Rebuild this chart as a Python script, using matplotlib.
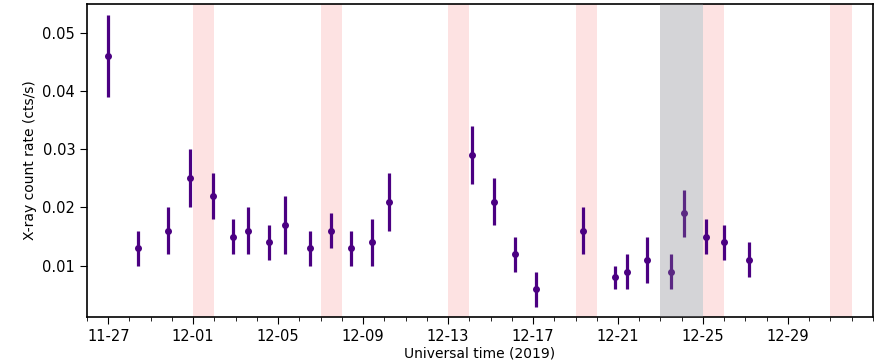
import matplotlib
matplotlib.use('Agg')
import matplotlib.pyplot as plt
import matplotlib.dates as mdates
import matplotlib.ticker as mticker
import pandas as pd

# Observation times (UT) and X-ray count rates with 1-sigma errors
obs_times = ['2019-11-27 00:00', '2019-11-28 09:40', '2019-11-29 19:30',
             '2019-11-30 20:40', '2019-12-01 21:50', '2019-12-02 20:25',
             '2019-12-03 13:40', '2019-12-04 14:00', '2019-12-05 08:00',
             '2019-12-06 12:15', '2019-12-07 11:45', '2019-12-08 10:00',
             '2019-12-09 10:30', '2019-12-10 05:15', '2019-12-14 03:00',
             '2019-12-15 03:30', '2019-12-16 03:20', '2019-12-17 03:00',
             '2019-12-19 09:00', '2019-12-20 20:40', '2019-12-21 10:30',
             '2019-12-22 08:40', '2019-12-23 12:15', '2019-12-24 02:10',
             '2019-12-25 03:50', '2019-12-25 23:20', '2019-12-27 03:40']
rate = [0.046, 0.013, 0.016, 0.025, 0.022, 0.015, 0.016, 0.014, 0.017,
        0.013, 0.016, 0.013, 0.014, 0.021, 0.029, 0.021, 0.012, 0.006,
        0.016, 0.008, 0.009, 0.011, 0.009, 0.019, 0.015, 0.014, 0.011]
rate_err = [0.007, 0.003, 0.004, 0.005, 0.004, 0.003, 0.004, 0.003, 0.005,
            0.003, 0.003, 0.003, 0.004, 0.005, 0.005, 0.004, 0.003, 0.003,
            0.004, 0.002, 0.003, 0.004, 0.003, 0.004, 0.003, 0.003, 0.003]

# Shaded intervals
pink_start = ['2019-12-01', '2019-12-07', '2019-12-13', '2019-12-19',
              '2019-12-25', '2019-12-31']
pink_end = ['2019-12-02', '2019-12-08', '2019-12-14', '2019-12-20',
            '2019-12-26', '2020-01-01']
gray_start = '2019-12-23'
gray_end = '2019-12-25'

t = pd.to_datetime(obs_times)

fig = plt.figure(figsize=(8.79, 3.62), dpi=100)
ax = fig.add_axes([0.099, 0.124, 0.894, 0.865])

for s, e in zip(pink_start, pink_end):
    ax.axvspan(pd.Timestamp(s), pd.Timestamp(e), color='#fde2e2',
               lw=0, zorder=0)

ax.errorbar(t, rate, yerr=rate_err, fmt='o', color='#4b0082', ms=4,
            elinewidth=2.3, capsize=0, zorder=2)

ax.axvspan(pd.Timestamp(gray_start), pd.Timestamp(gray_end),
           color='#7d7f88', alpha=0.33, lw=0, zorder=3)

ax.set_xlim(pd.Timestamp('2019-11-26'), pd.Timestamp('2020-01-02'))
ax.set_ylim(0.0012, 0.0549)
ax.set_yticks([0.01, 0.02, 0.03, 0.04, 0.05])

# major ticks every 4 days from 11-27, minor every day
ax.xaxis.set_major_locator(mticker.FixedLocator(
    mdates.date2num(pd.date_range('2019-11-27', '2019-12-29', freq='4D'))))
ax.xaxis.set_minor_locator(mdates.DayLocator())
ax.xaxis.set_major_formatter(mdates.DateFormatter('%m-%d'))

ax.tick_params(axis='both', which='major', labelsize=10.5, length=5)
ax.tick_params(axis='x', which='minor', length=3)
ax.set_xlabel('Universal time (2019)', fontsize=10, labelpad=2)
ax.set_ylabel('X-ray count rate (cts/s)', fontsize=10)
for sp in ax.spines.values():
    sp.set_linewidth(1.2)

fig.savefig('out.png', dpi=100)
